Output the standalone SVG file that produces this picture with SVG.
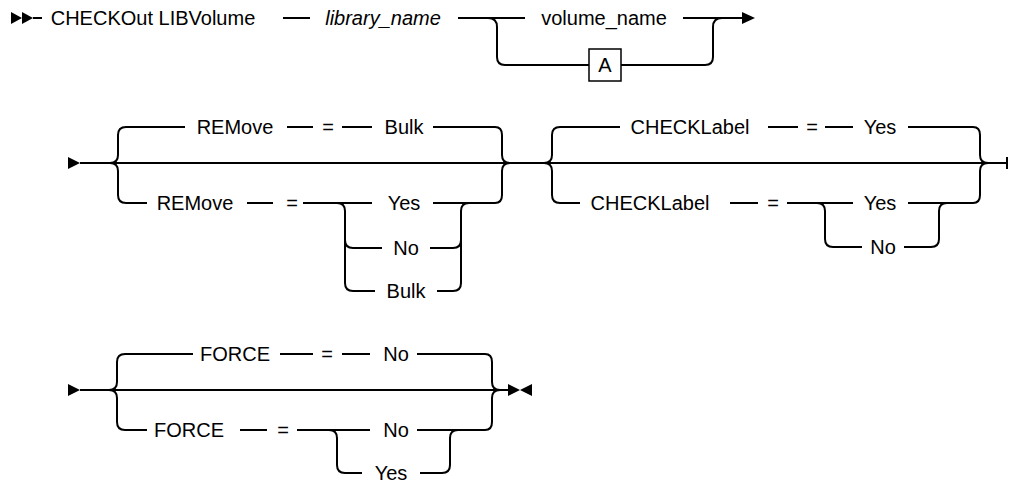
<svg xmlns="http://www.w3.org/2000/svg" width="1010" height="485" viewBox="0 0 1010 485">
<style>
  .t { font-family: "Liberation Sans", Arial, sans-serif; font-size: 20px; fill: #000; text-anchor: middle; }
  .i { font-style: italic; }
  .c { fill: none; stroke: #000; stroke-width: 2; stroke-linejoin: round; }
  .h { fill: #000; stroke: none; }
  .box { fill: #fff; stroke: #000; stroke-width: 1.5; }
</style>
<rect width="1010" height="485" fill="#fff"/>
<g id="connectors">
  <!-- Row 1 -->
  <polygon class="h" points="11,12 11,24 22,18"/>
  <polygon class="h" points="22,12 22,24 33,18"/>
  <path class="c" d="M33,18 L42,18"/>
  <path class="c" d="M283,18 L310,18"/>
  <path class="c" d="M458,18 L525,18"/>
  <path class="c" d="M683,18 L743,18"/>
  <polygon class="h" points="742,12 742,24 755,18"/>
  <path class="c" d="M488,18 Q497,18 497,27 L497,57 Q497,65 505,65 L589,65"/>
  <path class="c" d="M621,65 L705,65 Q713,65 713,57 L713,27 Q713,18 722,18"/>

  <!-- Row 2 -->
  <polygon class="h" points="68,157 68,169 80,163"/>
  <path class="c" d="M80,163 L1007,163"/>
  <path class="c" d="M1007,157 L1007,169"/>
  <!-- REMove group braces -->
  <path class="c" d="M126,127 Q118,127 118,135 L118,155 Q118,163 110,163 Q118,163 118,171 L118,195 Q118,203 126,203"/>
  <path class="c" d="M495,127 Q502,127 502,135 L502,155 Q502,163 510,163 Q502,163 502,171 L502,195 Q502,203 495,203"/>
  <path class="c" d="M126,127 L185,127"/>
  <path class="c" d="M287,127 L313,127"/>
  <path class="c" d="M342,127 L372,127"/>
  <path class="c" d="M433,127 L495,127"/>
  <path class="c" d="M126,203 L147,203"/>
  <path class="c" d="M247,203 L273,203"/>
  <path class="c" d="M303,203 L372,203"/>
  <path class="c" d="M433,203 L495,203"/>
  <path class="c" d="M337,203 Q345,203 345,211 L345,283 Q345,291 353,291 L375,291"/>
  <path class="c" d="M345,240 Q345,248 353,248 L382,248"/>
  <path class="c" d="M430,248 L453,248 Q461,248 461,240"/>
  <path class="c" d="M437,291 L453,291 Q461,291 461,283 L461,211 Q461,203 469,203"/>
  <!-- CHECKLabel group braces -->
  <path class="c" d="M560,127 Q552,127 552,135 L552,155 Q552,163 544,163 Q552,163 552,171 L552,195 Q552,203 560,203"/>
  <path class="c" d="M973,127 Q980,127 980,135 L980,155 Q980,163 988,163 Q980,163 980,171 L980,195 Q980,203 973,203"/>
  <path class="c" d="M560,127 L620,127"/>
  <path class="c" d="M768,127 L798,127"/>
  <path class="c" d="M825,127 L853,127"/>
  <path class="c" d="M908,127 L973,127"/>
  <path class="c" d="M560,203 L580,203"/>
  <path class="c" d="M730,203 L758,203"/>
  <path class="c" d="M787,203 L853,203"/>
  <path class="c" d="M908,203 L973,203"/>
  <path class="c" d="M817,203 Q825,203 825,211 L825,239 Q825,247 833,247 L862,247"/>
  <path class="c" d="M904,247 L931,247 Q939,247 939,239 L939,211 Q939,203 947,203"/>

  <!-- Row 3 -->
  <polygon class="h" points="68,384 68,396 80,390"/>
  <path class="c" d="M80,390 L509,390"/>
  <polygon class="h" points="508,384 508,396 520,390"/>
  <polygon class="h" points="532,384 532,396 520,390"/>
  <path class="c" d="M125,354 Q117,354 117,362 L117,382 Q117,390 109,390 Q117,390 117,398 L117,422 Q117,430 125,430"/>
  <path class="c" d="M485,354 Q492,354 492,362 L492,382 Q492,390 500,390 Q492,390 492,398 L492,422 Q492,430 485,430"/>
  <path class="c" d="M125,354 L193,354"/>
  <path class="c" d="M280,354 L313,354"/>
  <path class="c" d="M342,354 L370,354"/>
  <path class="c" d="M417,354 L485,354"/>
  <path class="c" d="M125,430 L147,430"/>
  <path class="c" d="M240,430 L267,430"/>
  <path class="c" d="M297,430 L370,430"/>
  <path class="c" d="M417,430 L485,430"/>
  <path class="c" d="M329,430 Q337,430 337,438 L337,465 Q337,473 345,473 L362,473"/>
  <path class="c" d="M420,473 L442,473 Q450,473 450,465 L450,438 Q450,430 458,430"/>
</g>

<g id="n-command"><text class="t" x="153" y="25">CHECKOut LIBVolume</text></g>
<g id="n-library"><text class="t i" x="383" y="25">library_name</text></g>
<g id="n-volume"><text class="t" x="604" y="25">volume_name</text></g>
<g id="n-A"><rect class="box" x="589" y="49" width="32" height="32"/><text class="t" x="605" y="72">A</text></g>

<g id="n-remove-default">
  <text class="t" x="235" y="134">REMove</text>
  <text class="t" x="328" y="134">=</text>
  <text class="t" x="404" y="134">Bulk</text>
</g>
<g id="n-remove">
  <text class="t" x="195" y="210">REMove</text>
  <text class="t" x="292" y="210">=</text>
</g>
<g id="n-remove-yes"><text class="t" x="404" y="210">Yes</text></g>
<g id="n-remove-no"><text class="t" x="406" y="255">No</text></g>
<g id="n-remove-bulk"><text class="t" x="406" y="298">Bulk</text></g>

<g id="n-checklabel-default">
  <text class="t" x="690" y="134">CHECKLabel</text>
  <text class="t" x="812" y="134">=</text>
  <text class="t" x="880" y="134">Yes</text>
</g>
<g id="n-checklabel">
  <text class="t" x="650" y="210">CHECKLabel</text>
  <text class="t" x="773" y="210">=</text>
</g>
<g id="n-checklabel-yes"><text class="t" x="880" y="210">Yes</text></g>
<g id="n-checklabel-no"><text class="t" x="883" y="254">No</text></g>

<g id="n-force-default">
  <text class="t" x="235" y="361">FORCE</text>
  <text class="t" x="327" y="361">=</text>
  <text class="t" x="396" y="361">No</text>
</g>
<g id="n-force">
  <text class="t" x="189" y="437">FORCE</text>
  <text class="t" x="283" y="437">=</text>
</g>
<g id="n-force-no"><text class="t" x="396" y="437">No</text></g>
<g id="n-force-yes"><text class="t" x="391" y="480">Yes</text></g>
</svg>
